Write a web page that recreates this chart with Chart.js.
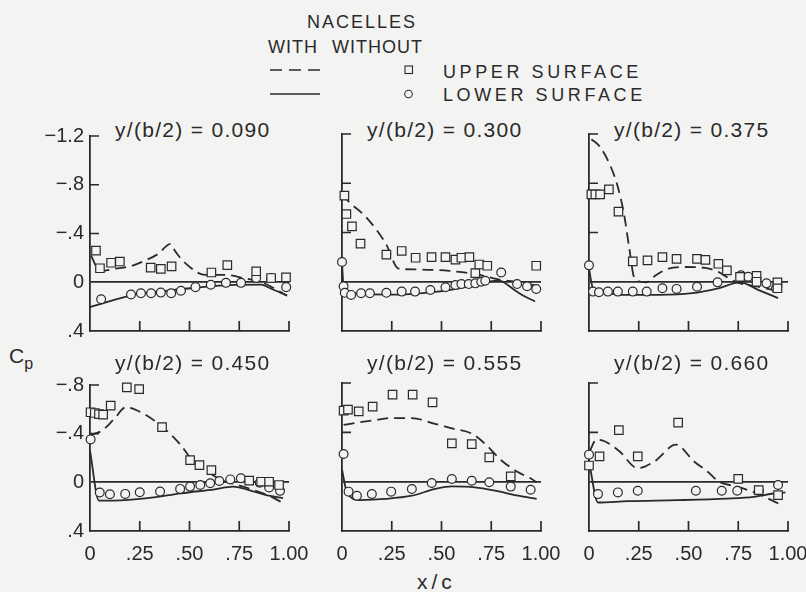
<!doctype html>
<html lang="en">
  <head>
    <meta charset="UTF-8" />
    <title>Chordwise pressure distributions, nacelles on and off</title>
    <script src="https://cdn.jsdelivr.net/npm/chart.js@4"></script>
    <style>
      body {
        margin: 0;
        background: #f3f3f1;
      }
      #page {
        position: relative;
        width: 806px;
        height: 592px;
        font-family: 'Liberation Sans', Arial, sans-serif;
        color: #2a2a2a;
        overflow: hidden;
      }
      .txt {
        position: absolute;
        white-space: nowrap;
        line-height: 1;
        font-size: 18px;
      }
      .title {
        font-size: 21px;
        letter-spacing: 1.3px;
      }
      canvas {
        position: absolute;
      }
    </style>
  </head>
  <body>
    <div id="page">
      <!-- key -->
      <div class="txt" style="left: 307px; top: 13px; letter-spacing: 2px">NACELLES</div>
      <div class="txt" style="left: 268px; top: 38px; letter-spacing: 1px">WITH</div>
      <div class="txt" style="left: 332px; top: 38px; letter-spacing: 1px">WITHOUT</div>
      <svg style="position: absolute; left: 268px; top: 64px" width="56" height="36">
        <line x1="2" y1="6" x2="52" y2="6" stroke="#2a2a2a" stroke-width="1.7" stroke-dasharray="12 7" />
        <line x1="2" y1="30" x2="52" y2="30" stroke="#2a2a2a" stroke-width="1.7" />
      </svg>
      <svg style="position: absolute; left: 400px; top: 62px" width="18" height="42">
        <rect x="5" y="4" width="7.5" height="7.5" fill="none" stroke="#2a2a2a" stroke-width="1.1" />
        <circle cx="8.5" cy="32" r="3.8" fill="none" stroke="#2a2a2a" stroke-width="1.1" />
      </svg>
      <div class="txt" style="left: 443px; top: 63px; letter-spacing: 3.6px">UPPER SURFACE</div>
      <div class="txt" style="left: 443px; top: 86px; letter-spacing: 3.6px">LOWER SURFACE</div>

      <!-- axis names -->
      <div class="txt" style="left: 9px; top: 345px; font-size: 21px">C<span style="font-size: 16px; position: relative; top: 6px">p</span></div>
      <div class="txt" style="left: 417px; top: 571px; font-size: 21px; letter-spacing: 4px">x/c</div>
    </div>

    <script>
      // ---- data: [x/c, Cp] ----
      const stations = ['0.090', '0.300', '0.375', '0.450', '0.555', '0.660'];

      const cpTickValues = [-1.2, -0.8, -0.4, 0, 0.4];
      const cpTickLabels = ['\u22121.2', '\u2212.8', '\u2212.4', '0', '.4'];
      const xcTickValues = [0, 0.25, 0.5, 0.75, 1];
      const xcTickLabels = ['0', '.25', '.50', '.75', '1.00'];

      // y/(b/2) = 0.090
      const upperWith090 = [[0.005, -0.22], [0.05, -0.09], [0.12, -0.11], [0.2, -0.13], [0.28, -0.18], [0.34, -0.23], [0.405, -0.315], [0.43, -0.25], [0.48, -0.155], [0.58, -0.06], [0.68, -0.06], [0.77, -0.035], [0.87, 0.005], [0.99, 0.11]];
      const lowerWith090 = [[0, 0.205], [0.11, 0.15], [0.23, 0.1], [0.4, 0.067], [0.53, 0.045], [0.7, 0.024], [0.86, 0.02], [0.9, 0.045], [0.99, 0.11]];
      const upperWithout090 = [[0.03, -0.26], [0.05, -0.115], [0.106, -0.16], [0.15, -0.17], [0.305, -0.12], [0.356, -0.11], [0.41, -0.13], [0.61, -0.08], [0.69, -0.14], [0.835, -0.09], [0.91, -0.035], [0.985, -0.04]];
      const lowerWithout090 = [[0.056, 0.14], [0.206, 0.1], [0.256, 0.09], [0.307, 0.09], [0.356, 0.085], [0.408, 0.09], [0.457, 0.07], [0.53, 0.04], [0.607, 0.02], [0.683, 0.005], [0.759, 0.005], [0.835, -0.035], [0.91, -0.035], [0.986, 0.04]];

      // y/(b/2) = 0.300
      const upperWith300 = [[0, -0.715], [0.034, -0.65], [0.118, -0.53], [0.22, -0.31], [0.284, -0.107], [0.37, -0.1], [0.54, -0.088], [0.676, -0.061], [0.743, -0.035], [0.8, -0.015], [0.9, 0.005], [0.97, 0.03]];
      const lowerWith300 = [[0, -0.155], [0.008, 0.04], [0.034, 0.085], [0.118, 0.1], [0.287, 0.104], [0.456, 0.085], [0.59, 0.053], [0.69, 0.019], [0.78, -0.008], [0.8, -0.005], [0.86, 0.059], [0.91, 0.112], [0.97, 0.16]];
      const upperWithout300 = [[0.012, -0.7], [0.022, -0.55], [0.05, -0.45], [0.093, -0.31], [0.223, -0.22], [0.3, -0.25], [0.37, -0.195], [0.45, -0.2], [0.52, -0.2], [0.57, -0.18], [0.6, -0.195], [0.64, -0.2], [0.67, -0.07], [0.69, -0.14], [0.73, -0.13], [0.976, -0.13]];
      const lowerWithout300 = [[0, -0.16], [0.008, 0.037], [0.014, 0.09], [0.046, 0.107], [0.096, 0.093], [0.14, 0.093], [0.223, 0.09], [0.3, 0.08], [0.367, 0.08], [0.444, 0.067], [0.52, 0.045], [0.57, 0.027], [0.6, 0.019], [0.637, 0.019], [0.67, 0.013], [0.7, 0], [0.72, -0.008], [0.8, -0.075], [0.88, 0.019], [0.93, 0.037], [0.976, 0.059]];

      // y/(b/2) = 0.375
      const upperWith375 = [[0.012, -1.157], [0.053, -1.1], [0.103, -0.957], [0.145, -0.77], [0.178, -0.53], [0.203, -0.266], [0.228, -0.032], [0.286, 0.005], [0.336, -0.053], [0.4, -0.106], [0.485, -0.12], [0.585, -0.112], [0.65, -0.08], [0.718, -0.013], [0.76, 0.013], [0.85, 0.04], [0.95, 0.075]];
      const lowerWith375 = [[0, -0.106], [0.02, 0.053], [0.07, 0.08], [0.153, 0.106], [0.352, 0.106], [0.518, 0.093], [0.65, 0.053], [0.759, 0.005], [0.85, 0.066], [0.95, 0.133]];
      const upperWithout375 = [[0.012, -0.71], [0.032, -0.71], [0.056, -0.71], [0.1, -0.75], [0.148, -0.57], [0.22, -0.165], [0.294, -0.173], [0.369, -0.2], [0.44, -0.186], [0.543, -0.186], [0.585, -0.178], [0.65, -0.146], [0.693, -0.093], [0.759, -0.04], [0.842, -0.048], [0.842, 0], [0.947, 0.005], [0.947, 0.053]];
      const lowerWithout375 = [[0, -0.133], [0.02, 0.08], [0.05, 0.085], [0.095, 0.08], [0.145, 0.08], [0.22, 0.08], [0.29, 0.08], [0.369, 0.053], [0.44, 0.058], [0.543, 0.04], [0.646, 0.005], [0.764, -0.053], [0.8, -0.04], [0.892, 0.013], [0.94, 0.053]];

      // y/(b/2) = 0.450
      const upperWith450 = [[0, -0.386], [0.062, -0.427], [0.121, -0.52], [0.18, -0.617], [0.256, -0.576], [0.365, -0.454], [0.45, -0.318], [0.508, -0.196], [0.593, -0.087], [0.66, -0.019], [0.744, 0.022], [0.845, 0.076], [0.91, 0.117], [0.97, 0.171]];
      const lowerWith450 = [[0, -0.26], [0.045, 0.15], [0.121, 0.15], [0.29, 0.13], [0.458, 0.09], [0.626, 0.057], [0.72, 0.035], [0.795, 0.062], [0.88, 0.103], [0.97, 0.13]];
      const upperWithout450 = [[0.003, -0.576], [0.024, -0.57], [0.045, -0.56], [0.066, -0.557], [0.104, -0.63], [0.185, -0.78], [0.247, -0.766], [0.362, -0.454], [0.503, -0.182], [0.55, -0.141], [0.61, -0.1], [0.8, -0.014], [0.86, -0.005], [0.9, -0.005], [0.95, 0.022]];
      const lowerWithout450 = [[0.003, -0.353], [0.049, 0.084], [0.1, 0.098], [0.177, 0.095], [0.25, 0.082], [0.352, 0.076], [0.453, 0.054], [0.503, 0.035], [0.554, 0.022], [0.604, 0.008], [0.65, -0.011], [0.705, -0.024], [0.758, -0.033], [0.853, 0.003], [0.9, 0.043], [0.955, 0.07]];

      // y/(b/2) = 0.555
      const upperWith555 = [[0.008, -0.46], [0.084, -0.48], [0.167, -0.5], [0.25, -0.516], [0.351, -0.516], [0.468, -0.468], [0.552, -0.432], [0.652, -0.39], [0.72, -0.305], [0.803, -0.17], [0.886, -0.076], [0.953, -0.022], [0.978, 0.005]];
      const lowerWith555 = [[0, -0.1], [0.025, 0.086], [0.092, 0.149], [0.217, 0.14], [0.351, 0.114], [0.468, 0.059], [0.552, 0.038], [0.669, 0.046], [0.77, 0.073], [0.886, 0.114], [0.978, 0.14]];
      const upperWithout555 = [[0.008, -0.576], [0.03, -0.584], [0.084, -0.57], [0.154, -0.608], [0.254, -0.705], [0.355, -0.705], [0.455, -0.643], [0.552, -0.31], [0.652, -0.305], [0.74, -0.197], [0.848, -0.043]];
      const lowerWithout555 = [[0.008, -0.224], [0.033, 0.081], [0.075, 0.114], [0.15, 0.1], [0.247, 0.081], [0.351, 0.059], [0.451, 0.011], [0.552, -0.022], [0.652, -0.008], [0.74, 0.005], [0.848, 0.04], [0.948, 0.065]];

      // y/(b/2) = 0.660
      const upperWith660 = [[0.003, -0.246], [0.037, -0.34], [0.078, -0.328], [0.153, -0.246], [0.245, -0.109], [0.328, -0.164], [0.437, -0.3], [0.528, -0.164], [0.595, -0.082], [0.653, 0], [0.745, 0.041], [0.845, 0.096], [0.953, 0.178]];
      const lowerWith660 = [[0, -0.164], [0.045, 0.169], [0.195, 0.158], [0.445, 0.15], [0.695, 0.137], [0.828, 0.123], [0.928, 0.096], [0.987, 0.087]];
      const upperWithout660 = [[0, -0.131], [0.053, -0.205], [0.15, -0.418], [0.245, -0.205], [0.448, -0.478], [0.75, -0.022], [0.853, 0.068], [0.95, 0.109]];
      const lowerWithout660 = [[0, -0.219], [0.045, 0.101], [0.145, 0.087], [0.245, 0.074], [0.537, 0.074], [0.667, 0.074], [0.745, 0.074], [0.853, 0.074], [0.95, 0.027]];

      const upperWith = [upperWith090, upperWith300, upperWith375, upperWith450, upperWith555, upperWith660];
      const lowerWith = [lowerWith090, lowerWith300, lowerWith375, lowerWith450, lowerWith555, lowerWith660];
      const upperWithout = [upperWithout090, upperWithout300, upperWithout375, upperWithout450, upperWithout555, upperWithout660];
      const lowerWithout = [lowerWithout090, lowerWithout300, lowerWithout375, lowerWithout450, lowerWithout555, lowerWithout660];

      // ---- layout (page pixels) ----
      const INK = '#2a2a2a';
      const PAPER = '#f3f3f1';
      const colLeft = [90, 342, 589];
      const plotWidth = 199;
      const rowTop = [134, 383];
      const rowHeight = [197, 148];
      const rowCpMin = [-1.2, -0.8];
      const titleTop = [119, 352];
      const PAD_L = 60, PAD_T = 16, PAD_R = 26, PAD_B = 30;

      Chart.defaults.font.family = "'Liberation Sans', Arial, sans-serif";
      Chart.defaults.font.size = 20;
      Chart.defaults.color = INK;

      // short tick marks drawn inward from the axes
      const innerTicks = {
        id: 'innerTicks',
        afterDatasetsDraw(chart) {
          const { ctx, chartArea, scales } = chart;
          ctx.save();
          ctx.strokeStyle = INK;
          ctx.lineWidth = 1.7;
          ctx.beginPath();
          scales.y.ticks.forEach((t) => {
            if (t.value >= 0) return;
            const py = scales.y.getPixelForValue(t.value);
            ctx.moveTo(chartArea.left, py);
            ctx.lineTo(chartArea.left + 9, py);
          });
          scales.x.ticks.forEach((t) => {
            if (t.value <= 0) return;
            const px = scales.x.getPixelForValue(t.value);
            ctx.moveTo(px, chartArea.bottom);
            ctx.lineTo(px, chartArea.bottom - 10);
          });
          ctx.stroke();
          ctx.restore();
        },
      };

      const toPoints = (pairs) => pairs.map(([x, y]) => ({ x, y }));

      function makePanel(i) {
        const row = Math.floor(i / 3);
        const col = i % 3;
        const page = document.getElementById('page');

        const title = document.createElement('div');
        title.className = 'txt title';
        title.style.left = colLeft[col] + 25 + 'px';
        title.style.top = titleTop[row] + 'px';
        title.textContent = 'y/(b/2) = ' + stations[i];
        page.appendChild(title);

        const canvas = document.createElement('canvas');
        canvas.width = plotWidth + PAD_L + PAD_R;
        canvas.height = rowHeight[row] + PAD_T + PAD_B;
        canvas.style.left = colLeft[col] - PAD_L + 'px';
        canvas.style.top = rowTop[row] - PAD_T + 'px';
        page.appendChild(canvas);

        const lineStyle = {
          showLine: true,
          borderColor: INK,
          borderWidth: 1.8,
          pointRadius: 0,
          cubicInterpolationMode: 'monotone',
          fill: false,
          clip: false,
          order: 2,
        };
        const markStyle = {
          showLine: false,
          borderColor: INK,
          backgroundColor: PAPER,
          borderWidth: 1.2,
          clip: false,
          order: 0,
        };

        new Chart(canvas, {
          type: 'line',
          data: {
            datasets: [
              { ...lineStyle, label: 'With, upper', data: toPoints(upperWith[i]), borderDash: [11, 6] },
              { ...lineStyle, label: 'With, lower', data: toPoints(lowerWith[i]) },
              { ...markStyle, label: 'Without, upper', data: toPoints(upperWithout[i]), pointStyle: 'rect', pointRadius: 6 },
              { ...markStyle, label: 'Without, lower', data: toPoints(lowerWithout[i]), pointStyle: 'circle', pointRadius: 4.4 },
            ],
          },
          options: {
            responsive: false,
            animation: false,
            events: [],
            layout: { padding: { left: 0, top: PAD_T, right: PAD_R, bottom: 0 } },
            plugins: { legend: { display: false }, tooltip: { enabled: false } },
            scales: {
              x: {
                type: 'linear',
                min: 0,
                max: 1,
                afterBuildTicks: (s) => {
                  s.ticks = xcTickValues.map((v) => ({ value: v }));
                },
                afterFit: (s) => {
                  s.height = PAD_B;
                },
                grid: { display: false },
                border: { display: true, color: INK, width: 1.8 },
                ticks: {
                  display: row === 1,
                  autoSkip: false,
                  maxRotation: 0,
                  padding: 3,
                  callback: (v) => xcTickLabels[xcTickValues.indexOf(v)],
                },
              },
              y: {
                type: 'linear',
                reverse: true,
                min: rowCpMin[row],
                max: 0.4,
                afterBuildTicks: (s) => {
                  s.ticks = cpTickValues.filter((v) => v >= s.min - 1e-9).map((v) => ({ value: v }));
                },
                afterFit: (s) => {
                  s.width = PAD_L;
                },
                grid: {
                  drawTicks: false,
                  lineWidth: 1.7,
                  color: (c) => (c.tick && Math.abs(c.tick.value) < 1e-9 ? INK : 'rgba(0,0,0,0)'),
                },
                border: { display: true, color: INK, width: 1.8 },
                ticks: {
                  display: col === 0,
                  padding: 6,
                  callback: (v) => cpTickLabels[cpTickValues.findIndex((t) => Math.abs(t - v) < 1e-9)],
                },
              },
            },
          },
          plugins: [innerTicks],
        });
      }

      stations.forEach((s, i) => makePanel(i));
    </script>
  </body>
</html>
